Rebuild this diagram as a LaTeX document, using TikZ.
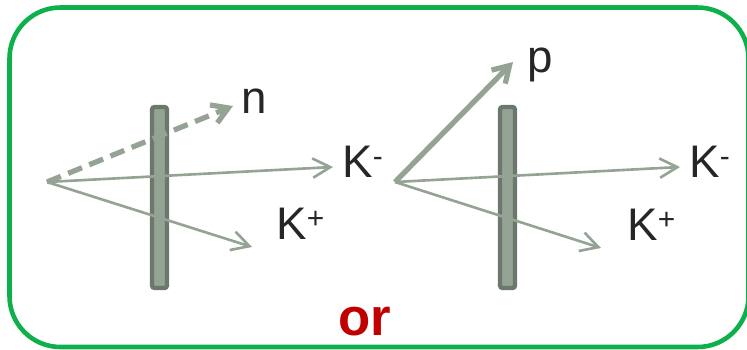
\documentclass[tikz,border=0pt]{standalone}
\usepackage{fontspec}
\setmainfont{Liberation Sans}
\usetikzlibrary{arrows.meta}
\definecolor{framec}{HTML}{0DB04B}
\definecolor{trackc}{HTML}{94A394}
\definecolor{platec}{HTML}{6C786C}
\definecolor{orc}{HTML}{C00000}
\definecolor{labc}{HTML}{262626}
\newcommand\kaon[1]{K\raisebox{6pt}{\fontsize{17}{17}\selectfont #1}}

\begin{document}
\begin{tikzpicture}[x=0.02cm,y=-0.02cm,trk/.style={draw=trackc,line width=1.5pt,-{Straight Barb[length=10pt,width=11pt]}},fat/.style={trk,line width=3pt,-{Straight Barb[length=9pt,width=11pt]}},lab/.style={anchor=base west,inner sep=0pt,text=labc,font=\fontsize{26}{30}\selectfont},plate/.style={draw=platec,fill=trackc,line width=2.5pt,rounded corners=1.5pt}]
\useasboundingbox (0,0) rectangle (747,349);
\draw[framec,line width=2.6pt,rounded corners=29pt] (9.5,7.5) rectangle (748.5,347);
% plates
\draw[plate] (152,107) rectangle (167,288);
\draw[plate] (500,107) rectangle (515,288);
% vertices and arrow ends
\coordinate (srcL) at (47,182);\coordinate (srcR) at (395,182);
\coordinate (ntip) at (233,106);\coordinate (ptip) at (513,62);
\coordinate (kmtL) at (333,167);\coordinate (kptL) at (252,247);
\coordinate (kmtR) at (680,167);\coordinate (kptR) at (601,248);
\foreach \s/\t in {srcL/kmtL,srcL/kptL,srcR/kmtR,srcR/kptR} \draw[trk] (\s)--(\t);
\draw[fat,dash pattern=on 8.5pt off 4.5pt] (srcL)--(ntip);
\draw[fat] (srcR)--(ptip);
% labels
\node[lab] (n) at (241,113) {n};
\node[lab] (kmL) at (342,177) {\kaon{-}};
\node[lab] (kpL) at (276,239) {\kaon{+}};
\node[lab] (p) at (527,72) {p};
\node[lab] (kmR) at (689,177) {\kaon{-}};
\node[lab] (kpR) at (627,240) {\kaon{+}};
\node[anchor=base,inner sep=0pt,text=orc,font=\fontsize{30}{34}\selectfont\bfseries] (or) at (365,335) {or};
\end{tikzpicture}
\end{document}
